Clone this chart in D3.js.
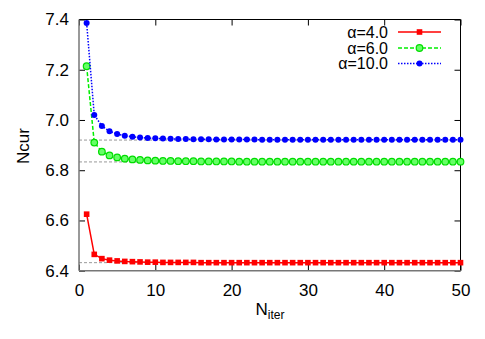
<!DOCTYPE html>
<html><head><meta charset="utf-8">
<script src="https://cdn.jsdelivr.net/npm/d3@7"></script>
<style>body{margin:0;background:#fff}svg{display:block}text{font-family:"Liberation Sans",Arial,sans-serif}</style>
</head><body>
<svg id="c" width="485" height="339"></svg>
<script>
const iterations = d3.range(1, 51);
const alpha4 = [6.625,6.465,6.448,6.442,6.439,6.437,6.436,6.435,6.434,6.434,
 6.433,6.433,6.433,6.433,6.433,6.432,6.432,6.432,6.432,6.432,
 6.432,6.432,6.432,6.432,6.432,6.432,6.432,6.432,6.432,6.432,
 6.432,6.432,6.432,6.432,6.432,6.432,6.432,6.432,6.432,6.432,
 6.432,6.432,6.432,6.432,6.432,6.432,6.432,6.432,6.432,6.432];
const alpha6 = [7.214,6.910,6.874,6.859,6.851,6.846,6.843,6.841,6.839,6.838,
 6.837,6.837,6.836,6.836,6.836,6.835,6.835,6.835,6.835,6.835,
 6.834,6.834,6.834,6.834,6.834,6.834,6.834,6.834,6.834,6.834,
 6.834,6.834,6.834,6.834,6.834,6.834,6.834,6.834,6.834,6.834,
 6.834,6.834,6.834,6.834,6.834,6.834,6.834,6.834,6.834,6.834];
const alpha10 = [7.386,7.020,6.976,6.955,6.944,6.937,6.933,6.930,6.928,6.927,
 6.926,6.925,6.924,6.924,6.923,6.923,6.923,6.922,6.922,6.922,
 6.922,6.922,6.922,6.921,6.921,6.921,6.921,6.921,6.921,6.921,
 6.921,6.921,6.921,6.921,6.921,6.921,6.921,6.921,6.921,6.921,
 6.921,6.921,6.921,6.921,6.921,6.921,6.921,6.921,6.921,6.921];
const limits = [6.432, 6.833, 6.920];
const seriesNames = ["α=4.0","α=6.0","α=10.0"];
const xTicks = [0,10,20,30,40,50];
const yTicks = [6.4,6.6,6.8,7.0,7.2,7.4];

const svg = d3.select("#c");
const L=79, R=460.5, T=19.5, B=270.7;
const x = d3.scaleLinear().domain([0,50]).range([L,R]);
const y = d3.scaleLinear().domain([6.4,7.4]).range([B,T]);

// reference dashed lines
svg.append("g").selectAll("line").data(limits).join("line")
  .attr("x1",L).attr("x2",R).attr("y1",d=>y(d)).attr("y2",d=>y(d))
  .attr("stroke","#999").attr("stroke-width",1).attr("stroke-dasharray","3,2");

const FF = "Liberation Sans, Arial, sans-serif";
const fmtY = d3.format(".1f");
svg.append("g").attr("transform",`translate(0,${B})`)
  .call(d3.axisBottom(x).tickValues(xTicks).tickSize(-6).tickPadding(13).tickFormat(d3.format("d")))
  .call(g=>{g.select(".domain").remove();g.selectAll("line").attr("stroke","#000");g.selectAll("text").attr("font-size",17).attr("fill","#000").attr("font-family",FF);});
svg.append("g").attr("transform",`translate(0,${T})`)
  .call(d3.axisTop(x).tickValues(xTicks).tickSize(-6).tickFormat(""))
  .call(g=>{g.select(".domain").remove();g.selectAll("line").attr("stroke","#000");});
svg.append("g").attr("transform",`translate(${L},0)`)
  .call(d3.axisLeft(y).tickValues(yTicks).tickSize(-6).tickPadding(10).tickFormat(fmtY))
  .call(g=>{g.select(".domain").remove();g.selectAll("line").attr("stroke","#000");g.selectAll("text").attr("font-size",17).attr("fill","#000").attr("font-family",FF);});
svg.append("g").attr("transform",`translate(${R},0)`)
  .call(d3.axisRight(y).tickValues(yTicks).tickSize(-6).tickFormat(""))
  .call(g=>{g.select(".domain").remove();g.selectAll("line").attr("stroke","#000");});

// frame
svg.append("line").attr("x1",L).attr("x2",R).attr("y1",T).attr("y2",T).attr("stroke","#000");
svg.append("line").attr("x1",R).attr("x2",R).attr("y1",T).attr("y2",B).attr("stroke","#000");
svg.append("line").attr("x1",L).attr("x2",L).attr("y1",T).attr("y2",B).attr("stroke","#777").attr("stroke-width",1.5);
svg.append("line").attr("x1",L).attr("x2",R).attr("y1",B).attr("y2",B).attr("stroke","#777").attr("stroke-width",1.5);

const series = [
  {name:seriesNames[0], vals:alpha4, color:"#ff0000", dash:null, marker:"square"},
  {name:seriesNames[1], vals:alpha6, color:"#00ee00", dash:"4,2", marker:"ocircle"},
  {name:seriesNames[2], vals:alpha10, color:"#0000ff", dash:"1.5,1.5", marker:"circle"}
];
const line = d3.line().x((d,i)=>x(iterations[i])).y(d=>y(d));

function marker(g, s, cx, cy){
  if(s.marker==="square"){
    g.append("rect").attr("x",cx-2.8).attr("y",cy-2.8).attr("width",5.6).attr("height",5.6).attr("fill",s.color);
  } else if(s.marker==="ocircle"){
    g.append("circle").attr("cx",cx).attr("cy",cy).attr("r",3.3).attr("fill","#66ff66").attr("stroke","#00dd00").attr("stroke-width",1.2);
  } else {
    g.append("circle").attr("cx",cx).attr("cy",cy).attr("r",3).attr("fill",s.color);
  }
}

series.forEach(s=>{
  const g = svg.append("g");
  g.append("path").attr("d",line(s.vals)).attr("fill","none").attr("stroke",s.color)
    .attr("stroke-width",1.5).attr("stroke-dasharray",s.dash);
  s.vals.forEach((v,i)=>marker(g,s,x(iterations[i]),y(v)));
});

// legend
const legY=[32,48,63.5];
series.forEach((s,i)=>{
  const g=svg.append("g");
  g.append("text").attr("x",388).attr("y",legY[i]+5.5).attr("text-anchor","end").attr("font-size",16).text(s.name);
  g.append("line").attr("x1",398).attr("x2",441).attr("y1",legY[i]).attr("y2",legY[i])
    .attr("stroke",s.color).attr("stroke-width",1.5).attr("stroke-dasharray",s.dash);
  marker(g,s,419.5,legY[i]);
});

// axis labels
svg.append("text").attr("transform","translate(29,146) rotate(-90)").attr("text-anchor","middle")
  .attr("font-size",17).text("Ncur");
const xl = svg.append("text").attr("x",270).attr("y",315).attr("text-anchor","middle").attr("font-size",17);
xl.append("tspan").text("N");
xl.append("tspan").attr("font-size",12).attr("dy",4).text("iter");
</script>
</body></html>
